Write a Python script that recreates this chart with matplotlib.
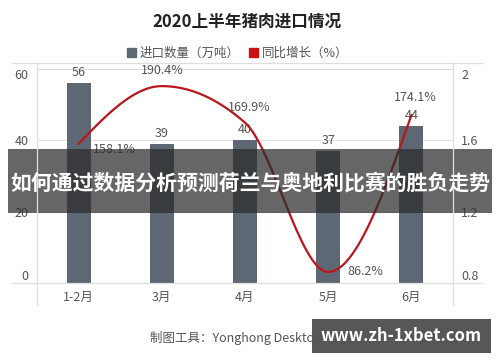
import numpy as np
import matplotlib.pyplot as plt
from matplotlib.patches import Patch, Rectangle
from matplotlib.lines import Line2D

plt.rcParams['font.family'] = ['Noto Sans CJK SC', 'DejaVu Sans']

# data
months = ['1-2月', '3月', '4月', '5月', '6月']
imports = [56, 39, 40, 37, 44]              # 万吨
growth = [1.581, 1.904, 1.699, 0.862, 1.741]  # 同比增长 (ratio)
growth_labels = ['158.1%', '190.4%', '169.9%', '86.2%', '174.1%']

BAR = '#5d6874'
RED = '#b8161b'
GRID = '#dedede'
TXT = '#555555'


def monotone_curve(xs, ys, n=60):
    """smooth monotone cubic through the points (d3 monotoneX style)"""
    xs = np.asarray(xs, float)
    ys = np.asarray(ys, float)
    h = np.diff(xs)
    s = np.diff(ys) / h
    m = np.zeros_like(ys)
    for k in range(1, len(ys) - 1):
        p = (s[k - 1] * h[k] + s[k] * h[k - 1]) / (h[k - 1] + h[k])
        m[k] = (np.sign(s[k - 1]) + np.sign(s[k])) * min(abs(s[k - 1]), abs(s[k]), 0.5 * abs(p))
    m[0] = (3 * s[0] - m[1]) / 2
    m[-1] = (3 * s[-1] - m[-2]) / 2
    out_x, out_y = [], []
    for k in range(len(h)):
        t = np.linspace(0, 1, n)
        h00 = 2 * t**3 - 3 * t**2 + 1
        h10 = t**3 - 2 * t**2 + t
        h01 = -2 * t**3 + 3 * t**2
        h11 = t**3 - t**2
        out_x.append(xs[k] + t * h[k])
        out_y.append(h00 * ys[k] + h10 * h[k] * m[k] + h01 * ys[k + 1] + h11 * h[k] * m[k + 1])
    return np.concatenate(out_x), np.concatenate(out_y)


W, H = 500, 362
fig = plt.figure(figsize=(5, 3.62), dpi=100)

# plot area in pixels: x 37..453, y 63..283
ax = fig.add_axes([37 / W, (H - 283) / H, (453 - 37) / W, (283 - 63) / H])
ax2 = ax.twinx()

x = np.arange(len(months))
ax.bar(x, imports, width=0.29, color=BAR, zorder=2)
ax.set_xlim(-0.5, len(months) - 0.5)
ax.set_ylim(0, 60 * 220 / 214)
ax.set_yticks([0, 20, 40, 60])
ax.set_xticks(x)
ax.set_xticklabels(months)
ax.grid(axis='y', color=GRID, lw=0.7, zorder=0)
for a in (ax, ax2):
    for sp in a.spines.values():
        sp.set_visible(False)
    a.tick_params(length=0, labelsize=9, labelcolor=TXT)
ax.tick_params(axis='y', pad=6)
ax.tick_params(axis='x', pad=6)

for xi, v in zip(x, imports):
    ax.text(xi, v + 1.2, str(v), ha='center', va='bottom', fontsize=9, color=TXT)

cx, cy = monotone_curve(x, growth)
ax2.plot(cx, cy, color=RED, lw=1.6, zorder=3)
ax2.set_ylim(0.8, 0.8 + 1.2 * 220 / 214)
ax2.set_yticks([0.8, 1.2, 1.6, 2.0])
ax2.set_yticklabels(['0.8', '1.2', '1.6', '2'])
ax2.tick_params(axis='y', pad=6)

# keep the end tick labels inside the plot band, off the frame lines
for a in (ax, ax2):
    labs = a.get_yticklabels()
    labs[0].set_verticalalignment('bottom')
    labs[-1].set_verticalalignment('top')

offsets = [(0.43, -0.03), (0.0, 0.05), (0.05, 0.05), (0.45, 0.0), (0.05, 0.06)]
for xi, g, lab, (dx, dy) in zip(x, growth, growth_labels, offsets):
    ax2.text(xi + dx, g + dy, lab, ha='center', va='bottom' if dy > 0 else 'center',
             fontsize=9, color=TXT)

# frame lines of the table-like layout
def hline(y, x0=12, x1=482):
    fig.add_artist(Line2D([x0 / W, x1 / W], [(H - y) / H] * 2, color=GRID, lw=0.9))


def vline(xp, y0=63, y1=305):
    fig.add_artist(Line2D([xp / W] * 2, [(H - y0) / H, (H - y1) / H], color=GRID, lw=0.9))


hline(63)
hline(283)
vline(37)
vline(453)

fig.text(0.494, (H - 22) / H, '2020上半年猪肉进口情况', ha='center', va='center',
         fontsize=12, fontweight='bold', color='#222222')
handles = [Patch(color=BAR), Patch(color='#cc1111')]
fig.legend(handles, ['进口数量（万吨）', '同比增长（%）'], loc='center',
           bbox_to_anchor=(0.475, (H - 53) / H), ncol=2, frameon=False,
           fontsize=9, handlelength=0.7, handleheight=0.7, handletextpad=0.3,
           columnspacing=0.8, labelcolor=TXT)

fig.text(150 / W, (H - 338) / H, '制图工具：Yonghong Desktop  数据来源：海关总署  整理',
         ha='left', va='center', fontsize=9, color=TXT)

# overlay banner
fig.add_artist(Rectangle((8 / W, (H - 213) / H), 484 / W, 64 / H,
                         transform=fig.transFigure, color='#2b2b2b', alpha=0.72, lw=0))
fig.text(0.5, (H - 183) / H, '如何通过数据分析预测荷兰与奥地利比赛的胜负走势',
         ha='center', va='center', fontsize=15, fontweight='bold', color='white')

# watermark
fig.add_artist(Rectangle((312 / W, (H - 353) / H), 179 / W, 34 / H,
                         transform=fig.transFigure, color='#3a3a3a', alpha=0.85, lw=0))
fig.text(401 / W, (H - 336) / H, 'www.zh-1xbet.com', ha='center', va='center',
         fontsize=12, fontweight='bold', color='white')

fig.savefig('out.png', dpi=100)
